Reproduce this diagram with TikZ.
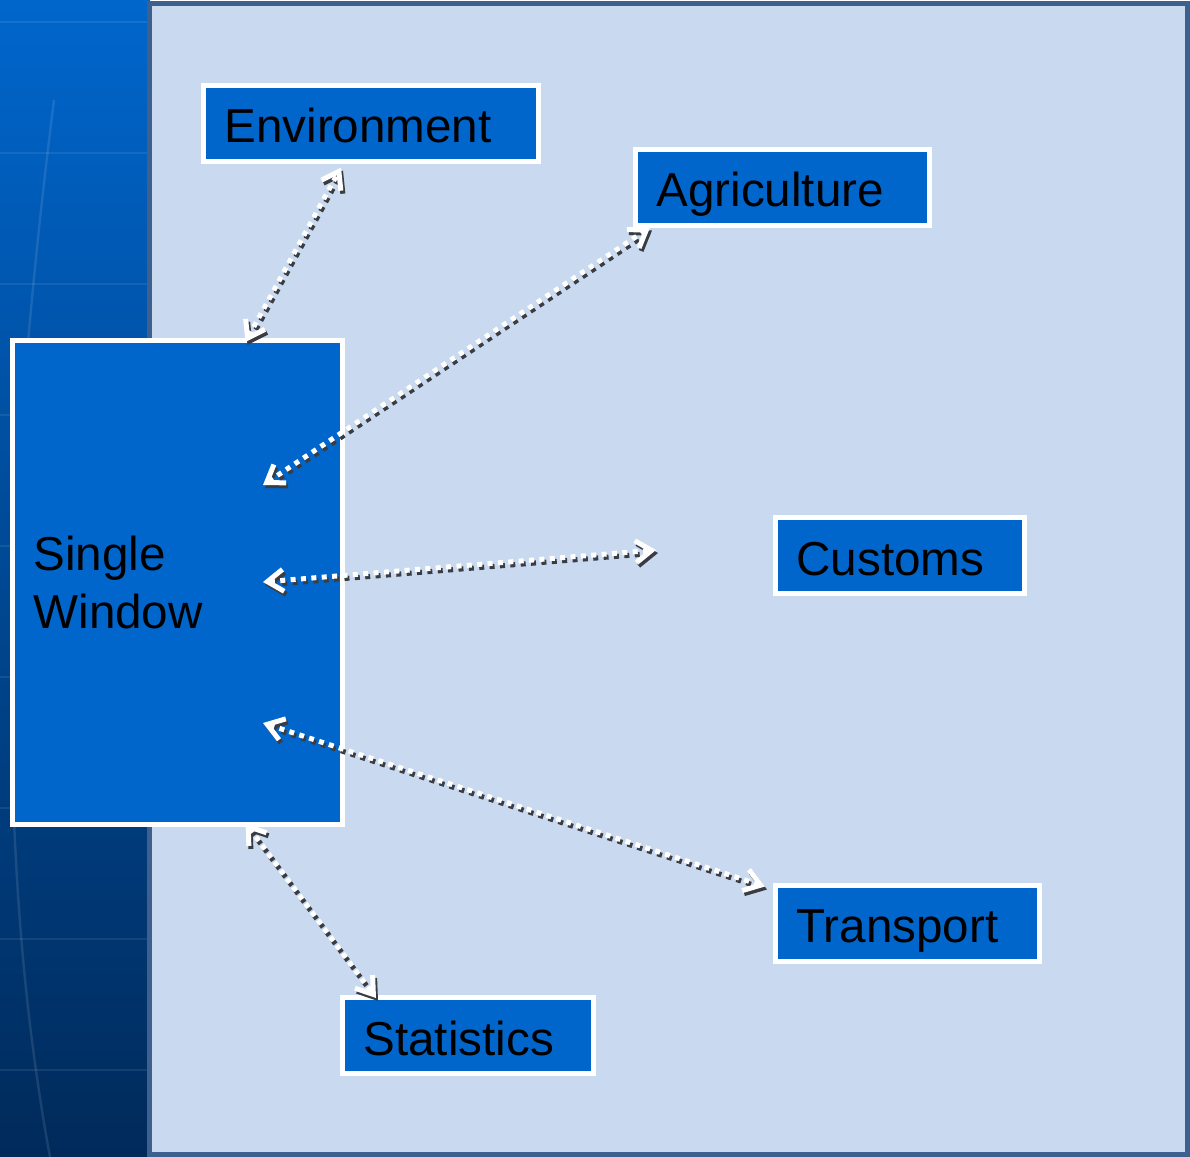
\documentclass[tikz,border=0pt]{standalone}
\usepackage{fontspec}
\setmainfont{Liberation Sans}
\usetikzlibrary{arrows.meta}
\definecolor{stripTop}{RGB}{0,102,204}
\definecolor{stripBottom}{RGB}{0,42,90}
\definecolor{panelFill}{RGB}{200,217,240}
\definecolor{panelEdge}{RGB}{62,96,142}
\definecolor{boxFill}{RGB}{0,102,204}
\definecolor{shadowGray}{RGB}{58,60,68}
\tikzset{
	box/.style = {draw = white, line width = 2.5pt, fill = boxFill, inner xsep = 10.5pt, inner ysep = 0pt,
		align = left, font = \fontsize{23.8}{29}\selectfont},
	tag/.style = {box, minimum height = 38pt, text height = 19.5pt, text depth = 0pt},
	barb/.style = {{Straight Barb[length = 8pt, width = 11pt, line width = 2.5pt]}-{Straight Barb[length = 8pt, width = 11pt, line width = 2.5pt]}},
	link/.style = {barb, white, line width = 2.5pt, dash pattern = on 2.5pt off 2.7pt},
	linkshadow/.style = {barb, shadowGray, line width = 2.5pt, dash pattern = on 2.5pt off 2.7pt,
		transform canvas = {xshift = 1pt, yshift = -1.5pt}}
}
\begin{document}
\begin{tikzpicture}[x = 0.5pt, y = -0.5pt]
		\useasboundingbox (0,0) rectangle (1190,1157);
		% background
		\shade [top color = stripTop, bottom color = stripBottom] (0,0) rectangle (150,1157);
		\foreach \gy in {22,153,284,415,546,677,808,939,1070}
			\draw [white, opacity = 0.08, line width = 1pt] (0,\gy) -- (150,\gy);
		\draw [white, opacity = 0.1, line width = 1.2pt] (54,100) .. controls (10,450) and (-12,820) .. (50,1157);
		\draw [panelEdge, fill = panelFill, line width = 2.5pt] (149.5,3.5) rectangle (1187.5,1154.5);
		% boxes
		\node [tag, text width = 146.5pt](env) at (371,123) {Environment};
		\node [tag, text width = 126pt](agri) at (782.5,187) {Agriculture};
		\node [tag, text width = 103.5pt](cust) at (900,555.5) {Customs};
		\node [tag, text width = 111pt](trans) at (907.5,923) {Transport};
		\node [tag, text width = 104.5pt](stat) at (468,1035.5) {Statistics};
		\node [box, text width = 144pt, minimum height = 242pt](sw) at (177.5,582.5) {Single\\Window};
		\coordinate (sw-agri) at (263,485);
		\coordinate (sw-cust) at (263,582);
		\coordinate (sw-trans) at (263,723);
		\coordinate (cust-end) at (656,550);
		% links
		\foreach \s in {linkshadow, link} {
			\draw [\s] ([xshift = 34pt, yshift = -2pt]sw.north) -- ([xshift = -15pt, yshift = -2pt]env.south);
			\draw [\s] (sw-agri) -- ([xshift = 8.5pt]agri.south west);
			\draw [\s] (sw-cust) -- (cust-end);
			\draw [\s] (sw-trans) -- ([xshift = -4pt, yshift = -2pt]trans.north west);
			\draw [\s] ([xshift = 34pt, yshift = 2pt]sw.south) -- ([xshift = 18pt, yshift = -1.5pt]stat.north west);
		}
\end{tikzpicture}
\end{document}
